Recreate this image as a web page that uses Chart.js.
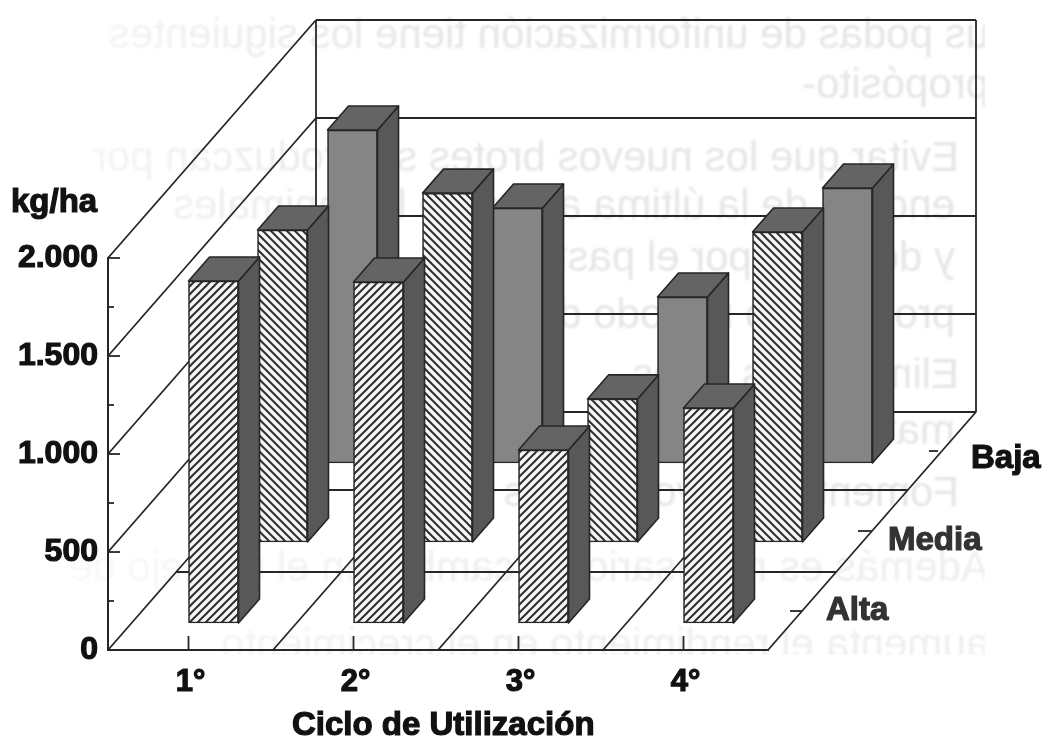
<!DOCTYPE html>
<html lang="es">
<head>
    <meta charset="UTF-8">
    <title>Ciclo de Utilización</title>
    <script src="https://cdn.jsdelivr.net/npm/chart.js"></script>
    <style>
        html, body { margin: 0; background: #fff; }
        #wrap { position: relative; width: 1051px; height: 740px; overflow: hidden; }
        #chart { position: absolute; left: 0; top: 0; filter: blur(0.7px); }
        /* text showing through from the back of the scanned page, so it is mirrored */
        #ghost {
            position: absolute; left: 0; top: 0; width: 985px; height: 655px; overflow: hidden;
            transform: scaleX(-1); color: #e6e6e6; filter: blur(1.3px);
            font: 42px "Liberation Sans", sans-serif; white-space: nowrap;
            -webkit-mask-image: linear-gradient(to right, #000 55%, rgba(0,0,0,0.35) 95%);
            mask-image: linear-gradient(to right, #000 55%, rgba(0,0,0,0.35) 95%);
        }
        #ghost div { position: absolute; }
        #ghost .faint { color: #efefef; }
    </style>
</head>
<body>
<div id="wrap">
    <div id="ghost">
        <div style="left:-4px;top:10px">us podas de uniformización tiene los siguientes</div>
        <div style="left:-4px;top:60px">propósito-</div>
        <div style="left:26px;top:133px">Evitar que los nuevos brotes se produzcan por</div>
        <div style="left:30px;top:181px">encima de la última altura de los animales</div>
        <div style="left:30px;top:233px">y después por el pastoreo</div>
        <div style="left:30px;top:290px">prolongado método de</div>
        <div style="left:26px;top:350px">Eliminar los tallos</div>
        <div style="left:30px;top:406px">materia seca</div>
        <div style="left:26px;top:468px">Fomentar nuevos brotes</div>
        <div class="faint" style="left:-4px;top:543px">Además es necesario un cambio en el manejo de</div>
        <div class="faint" style="left:-4px;top:620px">aumenta el rendimiento en el crecimiento</div>
    </div>
    <canvas id="chart" width="1051" height="740"></canvas>
</div>

<script>
    const categories = ['1°', '2°', '3°', '4°'];
    const seriesNames = ['Alta', 'Media', 'Baja'];
    const alta = [1745, 1740, 883, 1097];
    const media = [1592, 1780, 730, 1582];
    const baja = [1699, 1301, 847, 1403];
    const yTicks = [0, 500, 1000, 1500, 2000];
    const yTickLabels = ['0', '500', '1.000', '1.500', '2.000'];
    const xTitle = 'Ciclo de Utilización';
    const yTitle = 'kg/ha';

    const LABEL_FONT = '"Liberation Sans", Arial, sans-serif';
    const INK = '#262626';

    // 3d look: how far the back wall sits from the front, per row shift, and bar depth
    const wall = { dx: 208, dy: 238 };
    const rowShift = [[23, 27], [92, 108], [162, 187]];
    const barDepth = { dx: 21, dy: 24 };
    const zLabelPos = [[826, 620, 790, 802, 611], [888, 550, 858, 872, 531], [971, 468, 929, 938, 451]];

    function hatch(forward) {
        const size = 8;
        const c = document.createElement('canvas');
        c.width = size;
        c.height = size;
        const g = c.getContext('2d');
        g.fillStyle = '#f6f6f6';
        g.fillRect(0, 0, size, size);
        g.strokeStyle = '#2e2e2e';
        g.lineWidth = 2;
        g.lineCap = 'square';
        for (let i = -1; i <= 1; i++) {
            g.beginPath();
            if (forward) {
                g.moveTo(i * size, size);
                g.lineTo(i * size + size, 0);
            } else {
                g.moveTo(i * size, 0);
                g.lineTo(i * size + size, size);
            }
            g.stroke();
        }
        return g.createPattern(c, 'repeat');
    }

    function line(ctx, x1, y1, x2, y2) {
        ctx.beginPath();
        ctx.moveTo(x1, y1);
        ctx.lineTo(x2, y2);
        ctx.stroke();
    }

    function poly(ctx, pts, fill) {
        ctx.beginPath();
        pts.forEach((p, i) => i ? ctx.lineTo(p[0], p[1]) : ctx.moveTo(p[0], p[1]));
        ctx.closePath();
        ctx.fillStyle = fill;
        ctx.fill();
        ctx.stroke();
    }

    // heavy scanned looking label
    function inkText(ctx, text, x, y) {
        ctx.lineWidth = 1.2;
        ctx.strokeStyle = ctx.fillStyle;
        ctx.strokeText(text, x, y);
        ctx.fillText(text, x, y);
    }

    const box3d = {
        id: 'box3d',
        beforeDatasetsDraw(chart) {
            const { ctx, chartArea: a, scales: { y } } = chart;
            const bottom = y.getPixelForValue(0);
            ctx.save();
            ctx.strokeStyle = INK;
            ctx.lineWidth = 1.8;

            // left and back walls
            yTicks.forEach(v => {
                const py = y.getPixelForValue(v);
                line(ctx, a.left, py, a.left + wall.dx, py - wall.dy);
                line(ctx, a.left + wall.dx, py - wall.dy, a.right + wall.dx, py - wall.dy);
            });
            const topBack = y.getPixelForValue(2000) - wall.dy;
            line(ctx, a.left + wall.dx, topBack, a.left + wall.dx, bottom - wall.dy);
            line(ctx, a.right + wall.dx, topBack, a.right + wall.dx, bottom - wall.dy);

            // floor: one diagonal per category boundary, then the row separators
            for (let i = 1; i <= categories.length; i++) {
                const px = a.left + i * a.width / categories.length;
                line(ctx, px, bottom, px + wall.dx, bottom - wall.dy);
            }
            [78, 160].forEach(d => {
                const k = d / wall.dy;
                line(ctx, a.left + k * wall.dx, bottom - d, a.right + k * wall.dx, bottom - d);
            });

            // value axis minor and major ticks point inwards
            for (let v = 0; v <= 2000; v += 250) {
                const py = y.getPixelForValue(v);
                line(ctx, a.left, py, a.left + (v % 500 === 0 ? 12 : 6), py);
            }
            // category ticks
            categories.forEach((c, i) => {
                const px = chart.scales.x.getPixelForValue(i) - 2;
                line(ctx, px, bottom, px, bottom - 14);
            });
            ctx.restore();
        },
        beforeDatasetDraw(chart, args) {
            const s = rowShift[args.index];
            chart.ctx.save();
            chart.ctx.translate(s[0], -s[1]);
        },
        afterDatasetDraw(chart, args) {
            const { ctx } = chart;
            ctx.strokeStyle = '#262626';
            ctx.lineWidth = 1.6;
            ctx.lineJoin = 'round';
            args.meta.data.forEach(el => {
                const { x, y, base, width } = el.getProps(['x', 'y', 'base', 'width'], true);
                const l = x - width / 2, r = x + width / 2, d = barDepth;
                poly(ctx, [[r, y], [r + d.dx, y - d.dy], [r + d.dx, base - d.dy], [r, base]], '#585858');
                poly(ctx, [[l, y], [l + d.dx, y - d.dy], [r + d.dx, y - d.dy], [r, y]], '#646464');
            });
            ctx.restore();
        },
        afterDraw(chart) {
            const { ctx } = chart;
            ctx.save();
            ctx.font = 'bold 33px ' + LABEL_FONT;
            ctx.fillStyle = '#111';
            inkText(ctx, yTitle, 11, 212);
            inkText(ctx, xTitle, 292, 735);
            seriesNames.forEach((name, i) => {
                const p = zLabelPos[i];
                ctx.fillStyle = i === 2 ? '#111' : '#333';
                inkText(ctx, name, p[0], p[1]);
                ctx.strokeStyle = INK;
                ctx.lineWidth = 1.8;
                line(ctx, p[2], p[4], p[3], p[4]);
            });
            ctx.restore();
        }
    };

    new Chart(document.getElementById('chart'), {
        type: 'bar',
        data: {
            labels: categories,
            datasets: [
                { label: seriesNames[0], data: alta, backgroundColor: hatch(true) },
                { label: seriesNames[1], data: media, backgroundColor: hatch(false) },
                { label: seriesNames[2], data: baja, backgroundColor: '#858585' }
            ]
        },
        options: {
            responsive: false,
            animation: false,
            layout: { padding: { top: 258, right: 283 } },
            datasets: { bar: { grouped: false, barThickness: 50, borderWidth: 1.6, borderColor: '#262626', borderSkipped: false, clip: false } },
            plugins: { legend: { display: false }, tooltip: { enabled: false } },
            scales: {
                x: {
                    grid: { display: false, drawTicks: false },
                    border: { display: true, color: INK, width: 2 },
                    afterFit: s => { s.height = 90; },
                    ticks: {
                        color: '#111', padding: 14, textStrokeColor: '#111', textStrokeWidth: 1.2,
                        font: { family: LABEL_FONT, size: 31, weight: 'bold' }
                    }
                },
                y: {
                    min: 0,
                    max: 2000,
                    afterFit: s => { s.width = 108; },
                    afterBuildTicks: s => { s.ticks = yTicks.map(v => ({ value: v })); },
                    grid: { display: false, drawTicks: false },
                    border: { display: true, color: INK, width: 2 },
                    ticks: {
                        color: '#111',
                        padding: 10,
                        textStrokeColor: '#111',
                        textStrokeWidth: 1.2,
                        font: { family: LABEL_FONT, size: 32, weight: 'bold' },
                        callback: v => yTickLabels[yTicks.indexOf(v)]
                    }
                }
            }
        },
        plugins: [box3d]
    });
</script>
</body>
</html>
